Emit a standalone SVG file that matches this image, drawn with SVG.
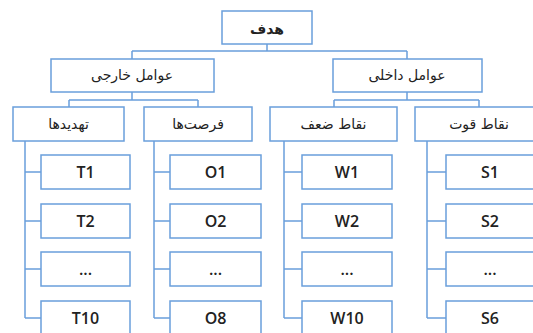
<svg xmlns="http://www.w3.org/2000/svg" width="533" height="333" viewBox="0 0 533 333">
<style>
.b{fill:#fff;stroke:#6a9fdb;stroke-width:1.5}
.c{fill:none;stroke:#6a9fdb;stroke-width:1.5}
.fa{font-family:"DejaVu Sans","Noto Sans",sans-serif;font-size:14px;fill:#222;text-anchor:middle}
.la{font-family:"Open Sans","Liberation Sans",sans-serif;font-size:16px;font-weight:600;fill:#222;text-anchor:middle}
</style>
<rect width="533" height="333" fill="#fff"/>
<g id="connectors" class="c">
<path d="M267 44V51M132 51H407M132 51V59M407 51V59"/>
<path d="M132 92V100M69 100H198M69 100V107M198 100V107"/>
<path d="M407 92V100M334 100H479M334 100V107M479 100V107"/>
<path d="M25 141V318M25 172H41M25 221H41M25 269H41M25 318H41"/>
<path d="M154 141V318M154 172H170M154 221H170M154 269H170M154 318H170"/>
<path d="M284 141V318M284 172H302M284 221H302M284 269H302M284 318H302"/>
<path d="M427 141V318M427 172H446M427 221H446M427 269H446M427 318H446"/>
</g>
<g id="goal"><rect class="b" x="222" y="11" width="90" height="33"/><text class="fa" x="267" y="34" font-size="18" font-weight="bold">هدف</text></g>
<g id="external"><rect class="b" x="51" y="59" width="163" height="33"/><text class="fa" x="132" y="80">عوامل خارجی</text></g>
<g id="internal"><rect class="b" x="333" y="59" width="149" height="33"/><text class="fa" x="407" y="80">عوامل داخلی</text></g>
<g id="threats"><rect class="b" x="13" y="107" width="111" height="34"/><text class="fa" x="68.5" y="129">تهدیدها</text></g>
<g id="opportunities"><rect class="b" x="144" y="107" width="108" height="34"/><text class="fa" x="198" y="129">فرصت‌ها</text></g>
<g id="weaknesses"><rect class="b" x="270" y="107" width="127" height="34"/><text class="fa" x="333.5" y="129">نقاط ضعف</text></g>
<g id="strengths"><rect class="b" x="415" y="107" width="128" height="34"/><text class="fa" x="479" y="129">نقاط قوت</text></g>
<g id="T1"><rect class="b" x="41" y="155" width="89" height="34"/><text class="la" x="85.5" y="178">T1</text></g>
<g id="T2"><rect class="b" x="41" y="204" width="89" height="34"/><text class="la" x="85.5" y="227">T2</text></g>
<g id="T3"><rect class="b" x="41" y="252" width="89" height="34"/><text class="la" x="85.5" y="275">...</text></g>
<g id="T10"><rect class="b" x="41" y="301" width="89" height="34"/><text class="la" x="85.5" y="324">T10</text></g>
<g id="O1"><rect class="b" x="170" y="155" width="91" height="34"/><text class="la" x="215.5" y="178">O1</text></g>
<g id="O2"><rect class="b" x="170" y="204" width="91" height="34"/><text class="la" x="215.5" y="227">O2</text></g>
<g id="O3"><rect class="b" x="170" y="252" width="91" height="34"/><text class="la" x="215.5" y="275">...</text></g>
<g id="O8"><rect class="b" x="170" y="301" width="91" height="34"/><text class="la" x="215.5" y="324">O8</text></g>
<g id="W1"><rect class="b" x="302" y="155" width="90" height="34"/><text class="la" x="347" y="178">W1</text></g>
<g id="W2"><rect class="b" x="302" y="204" width="90" height="34"/><text class="la" x="347" y="227">W2</text></g>
<g id="W3"><rect class="b" x="302" y="252" width="90" height="34"/><text class="la" x="347" y="275">...</text></g>
<g id="W10"><rect class="b" x="302" y="301" width="90" height="34"/><text class="la" x="347" y="324">W10</text></g>
<g id="S1"><rect class="b" x="446" y="155" width="90" height="34"/><text class="la" x="490" y="178">S1</text></g>
<g id="S2"><rect class="b" x="446" y="204" width="90" height="34"/><text class="la" x="490" y="227">S2</text></g>
<g id="S3"><rect class="b" x="446" y="252" width="90" height="34"/><text class="la" x="490" y="275">...</text></g>
<g id="S6"><rect class="b" x="446" y="301" width="90" height="34"/><text class="la" x="490" y="324">S6</text></g>
</svg>
